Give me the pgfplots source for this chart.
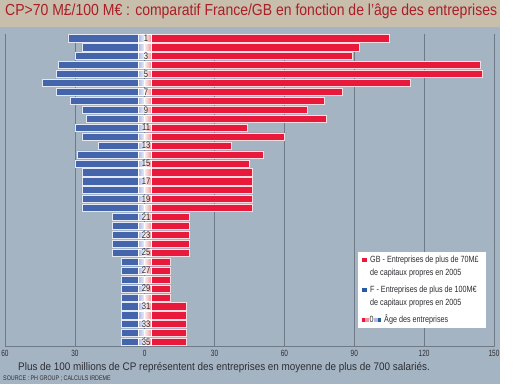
\documentclass[border=0pt]{standalone}
\usepackage{fontspec}
\setmainfont{Liberation Sans}
\newfontfamily\cond[FakeStretch=0.8]{Liberation Sans}
\newfontfamily\tickfont[FakeStretch=0.72]{Liberation Sans}
\newfontfamily\titlefont[FakeStretch=0.875]{Liberation Sans}
\newfontfamily\capfont[FakeStretch=0.9]{Liberation Sans}
\usepackage{pgfplots}
\pgfplotsset{compat=1.18}
\usepackage{pgfplotstable}

\definecolor{bgc}{RGB}{165,180,195}
\definecolor{titlebg}{RGB}{200,190,172}
\definecolor{titlered}{RGB}{170,30,40}
\definecolor{redc}{RGB}{232,25,58}
\definecolor{bluec}{RGB}{68,100,172}
\definecolor{legblue}{RGB}{40,90,165}
\definecolor{gridc}{RGB}{110,122,135}
\definecolor{paleblue}{RGB}{175,185,225}
\definecolor{palered}{RGB}{240,150,155}
\definecolor{txt}{RGB}{45,45,50}

\pgfplotstableread{
age GB F bl br
1 105 33 -2.8 3.0
2 92 27 -2.8 3.0
3 89 30 -2.8 3.0
4 144 37 -2.8 3.0
5 145 38 -2.8 3.0
6 114 44 -2.8 3.0
7 85 38 -2.8 3.0
8 77 32 -2.8 3.0
9 70 27 -2.8 3.0
10 78 25 -2.8 3.0
11 44 30 -2.8 3.0
12 60 27 -2.8 3.0
13 37 20 -2.8 3.0
14 51 29 -2.8 3.0
15 45 30 -2.8 3.0
16 46 27 -2.8 3.0
17 46 27 -2.8 3.0
18 46 27 -2.8 3.0
19 46 27 -2.8 3.0
20 46 27 -2.8 3.0
21 19 14 -2.8 3.0
22 19 14 -2.8 3.0
23 19 14 -2.8 3.0
24 19 14 -2.8 3.0
25 19 14 -2.8 3.0
26 11 10 -2.8 3.0
27 11 10 -2.8 3.0
28 11 10 -2.8 3.0
29 11 10 -2.8 3.0
30 11 10 -2.8 3.0
31 18 10 -2.8 3.0
32 18 10 -2.8 3.0
33 18 10 -2.8 3.0
34 18 10 -2.8 3.0
35 18 10 -2.8 3.0
}\data

\pgfplotstableread{
age pos
1 0.6
3 0.6
5 0.6
7 0.6
9 0.6
11 0.6
13 0.6
15 0.6
17 0.6
19 0.6
21 0.6
23 0.6
25 0.6
27 0.6
29 0.6
31 0.6
33 0.6
35 0.6
}\labels

\begin{document}
\begin{tikzpicture}[x=1pt,y=1pt]
\useasboundingbox (0,0) rectangle (516,384);
\fill[white] (0,0) rectangle (516,384);
\fill[bgc] (0,0) rectangle (500,357);
\fill[titlebg] (0,357) rectangle (500,384);
\node[anchor=base west, text=titlered, font=\titlefont\fontsize{16}{16}\selectfont, inner sep=0] at (5,368) {CP>70 M£/100 M€ : comparatif France/GB en fonction de l’âge des entreprises};

\begin{axis}[at={(5pt,37.5pt)}, anchor=south west, scale only axis,
  width=489pt, height=312.7pt,
  xmin=-60, xmax=150, ymin=0.5, ymax=35.5,
  axis x line*=bottom, axis y line=none,
  xtick={-60,-30,0,30,60,90,120,150},
  xticklabels={60,30,0,30,60,90,120,150},
  major tick length=0pt,
  xmajorgrids, grid style={gridc, line width=0.7pt},
  x axis line style={gridc, line width=0.7pt},
  xticklabel style={font=\tickfont\fontsize{9}{9}\selectfont, text=txt},
  clip=false]
\addplot[xbar, bar shift=0pt, bar width=0.8, fill=redc, draw=white!85!redc, line width=0.5pt]
  table[x=GB, y expr=36-\thisrow{age}] {\data};
\addplot[xbar, bar shift=0pt, bar width=0.8, fill=bluec, draw=white!85!bluec, line width=0.5pt]
  table[x expr=-\thisrow{F}, y expr=36-\thisrow{age}] {\data};
\addplot[xbar, bar shift=0pt, bar width=0.8, draw=white, line width=0.5pt, left color=paleblue, right color=white!80!paleblue]
  table[x=bl, y expr=36-\thisrow{age}] {\data};
\addplot[xbar, bar shift=0pt, bar width=0.8, draw=white, line width=0.5pt, left color=white!80!palered, right color=palered]
  table[x=br, y expr=36-\thisrow{age}] {\data};
\addplot[draw=none, mark=none, point meta=explicit symbolic, nodes near coords,
  nodes near coords style={anchor=center, inner sep=0pt, font=\cond\fontsize{9.5}{9.5}\selectfont, text=txt}]
  table[x=pos, y expr=36-\thisrow{age}, meta=age] {\labels};
\end{axis}

\node[anchor=base west, inner sep=0, font=\capfont\fontsize{11}{11}\selectfont, text=txt] at (18,14) {Plus de 100 millions de CP représentent des entreprises en moyenne de plus de 700 salariés.};
\node[anchor=base west, inner sep=0, font=\cond\fontsize{6.7}{6.7}\selectfont, text=txt] at (3,3.5) {SOURCE : PH GROUP ; CALCULS IRDEME};

% legend
\fill[white] (358,56) rectangle (486,132);
\fill[redc] (362,122) rectangle (366.5,126.5);
\node[anchor=base west, inner sep=0, font=\cond\fontsize{9}{9}\selectfont, text=txt] at (370,121.5) {GB - Entreprises de plus de 70M£};
\node[anchor=base west, inner sep=0, font=\cond\fontsize{9}{9}\selectfont, text=txt] at (370,108.5) {de capitaux propres en 2005};
\fill[legblue] (362,92) rectangle (366.5,96.5);
\node[anchor=base west, inner sep=0, font=\cond\fontsize{9}{9}\selectfont, text=txt] at (370,91.5) {F - Entreprises de plus de 100M€};
\node[anchor=base west, inner sep=0, font=\cond\fontsize{9}{9}\selectfont, text=txt] at (370,78.5) {de capitaux propres en 2005};
\fill[redc] (362,62) rectangle (365,66.5);
\fill[palered] (365,62) rectangle (369,66.5);
\node[anchor=base, inner sep=0, font=\cond\fontsize{9}{9}\selectfont, text=txt] at (371.5,61.5) {0};
\fill[paleblue] (374,62) rectangle (377.5,66.5);
\fill[legblue] (377.5,62) rectangle (381,66.5);
\node[anchor=base west, inner sep=0, font=\cond\fontsize{9}{9}\selectfont, text=txt] at (384,61.5) {Âge des entreprises};
\end{tikzpicture}
\end{document}
